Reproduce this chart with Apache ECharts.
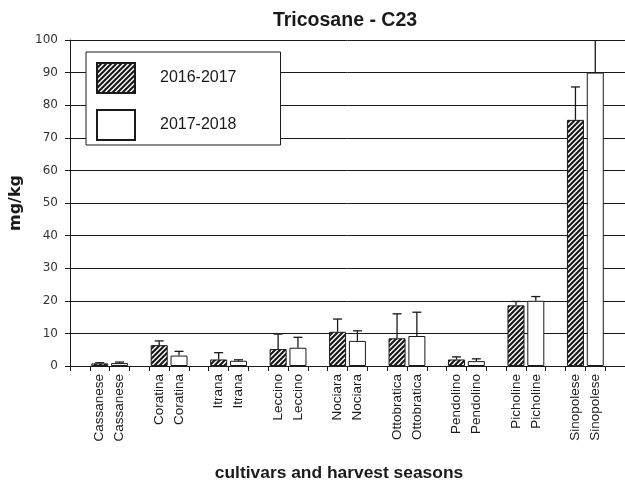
<!DOCTYPE html>
<html>
<head>
<meta charset="utf-8">
<script src="https://cdn.jsdelivr.net/npm/echarts@6/dist/echarts.min.js"></script>
<style>
  html, body { margin: 0; padding: 0; background: #fff; }
  #chart { width: 625px; height: 482px; }
</style>
</head>
<body>
<div id="chart"></div>
<script>
// values (mg/kg), mean and upper error
const cultivars = ["Cassanese", "Coratina", "Itrana", "Leccino", "Nociara", "Ottobratica", "Pendolino", "Picholine", "Sinopolese"];
const mean1617 = [0.8, 6.4, 2.0, 5.2, 10.5, 8.5, 2.0, 18.6, 75.5];
const err1617 = [0.2, 1.3, 2.1, 4.6, 3.9, 7.5, 0.8, 1.2, 10.1];
const mean1718 = [0.9, 3.2, 1.6, 5.6, 7.7, 9.2, 1.5, 20.0, 90.0];
const err1718 = [0.3, 1.3, 0.3, 3.2, 3.1, 7.3, 0.7, 1.3, 11.0];
const seasons = ["2016-2017", "2017-2018"];
const yTicks = [0, 10, 20, 30, 40, 50, 60, 70, 80, 90, 100];

// one empty slot before each pair of bars, and one at the end
const categories = [""];
const bars1 = [null];
const bars2 = [null];
const errors = [];
cultivars.forEach((name, i) => {
  categories.push(name, name, "");
  bars1.push(mean1617[i], null, null);
  bars2.push(null, mean1718[i], null);
  errors.push([3 * i + 1, mean1617[i], err1617[i]]);
  errors.push([3 * i + 2, mean1718[i], err1718[i]]);
});

// diagonal hatch for the first season
function makeHatch() {
  const c = document.createElement("canvas");
  c.width = 5;
  c.height = 5;
  const ctx = c.getContext("2d");
  ctx.fillStyle = "#fff";
  ctx.fillRect(0, 0, 5, 5);
  ctx.strokeStyle = "#1a1a1a";
  ctx.lineWidth = 2.2;
  ctx.beginPath();
  ctx.moveTo(-3, 3); ctx.lineTo(3, -3);
  ctx.moveTo(-3, 8); ctx.lineTo(8, -3);
  ctx.moveTo(2, 8); ctx.lineTo(8, 2);
  ctx.stroke();
  return c;
}

function renderError(params, api) {
  const x = api.value(0);
  const y = api.value(1);
  const e = api.value(2);
  const base = api.coord([x, y]);
  const top = api.coord([x, y + e]);
  const half = 4.5;
  const style = { stroke: "#1a1a1a", lineWidth: 1.3 };
  return {
    type: "group",
    children: [
      { type: "line", shape: { x1: base[0], y1: base[1], x2: top[0], y2: top[1] }, style },
      { type: "line", shape: { x1: top[0] - half, y1: top[1], x2: top[0] + half, y2: top[1] }, style },
    ],
  };
}

const chart = echarts.init(document.getElementById("chart"), null, { renderer: "canvas" });
chart.setOption({
  animation: false,
  textStyle: { fontFamily: "Liberation Sans, Arial, sans-serif" },
  title: [
    {
      text: "Tricosane - C23",
      left: 340,
      top: 6,
      textAlign: "center",
      textStyle: { fontSize: 19.5, fontWeight: "bold", color: "#1a1a1a" },
    },
    {
      text: "cultivars and harvest seasons",
      left: 334,
      top: 460,
      textAlign: "center",
      textStyle: { fontSize: 17.4, fontWeight: "bold", color: "#1a1a1a" },
    },
  ],
  legend: {
    data: seasons,
    orient: "vertical",
    left: 86,
    top: 52,
    icon: "rect",
    itemWidth: 38,
    itemHeight: 30,
    itemGap: 15,
    padding: [10, 44, 4, 10],
    borderColor: "#1a1a1a",
    borderWidth: 1,
    backgroundColor: "#fff",
    textStyle: { fontSize: 16, color: "#1a1a1a", padding: [0, 0, 0, 20] },
  },
  grid: {
    top: 40,
    left: 70,
    right: -5,
    bottom: 116,
  },
  xAxis: {
    type: "category",
    data: categories,
    boundaryGap: true,
    axisLine: { lineStyle: { color: "#1a1a1a", width: 1 } },
    axisTick: { show: true, length: 5, interval: 0, lineStyle: { color: "#1a1a1a" } },
    axisLabel: { interval: 0, rotate: 90, fontSize: 13.5, color: "#1a1a1a", margin: 8 },
  },
  yAxis: {
    type: "value",
    min: yTicks[0],
    max: yTicks[yTicks.length - 1],
    interval: 10,
    name: "mg/kg",
    nameLocation: "middle",
    nameGap: 43,
    nameTextStyle: { fontSize: 16, fontWeight: "bold", color: "#1a1a1a", fontFamily: "DejaVu Sans" },
    axisLine: { show: true, lineStyle: { color: "#1a1a1a" } },
    axisTick: { show: true, length: 5, lineStyle: { color: "#1a1a1a" } },
    axisLabel: { fontSize: 12, color: "#333", margin: 12, fontFamily: "DejaVu Sans" },
    splitLine: { lineStyle: { color: "#1a1a1a", width: 1 } },
  },
  series: [
    {
      name: seasons[0],
      type: "bar",
      data: bars1,
      barWidth: 17,
      barGap: "-100%",
      itemStyle: {
        color: { image: makeHatch(), repeat: "repeat" },
        borderColor: "#1a1a1a",
        borderWidth: 1,
      },
    },
    {
      name: seasons[1],
      type: "bar",
      data: bars2,
      barWidth: 17,
      barGap: "-100%",
      itemStyle: { color: "#fff", borderColor: "#1a1a1a", borderWidth: 1 },
    },
    {
      name: "error",
      type: "custom",
      renderItem: renderError,
      data: errors,
      encode: { x: 0, y: 1 },
      clip: true,
      z: 3,
    },
  ],
});
</script>
</body>
</html>
